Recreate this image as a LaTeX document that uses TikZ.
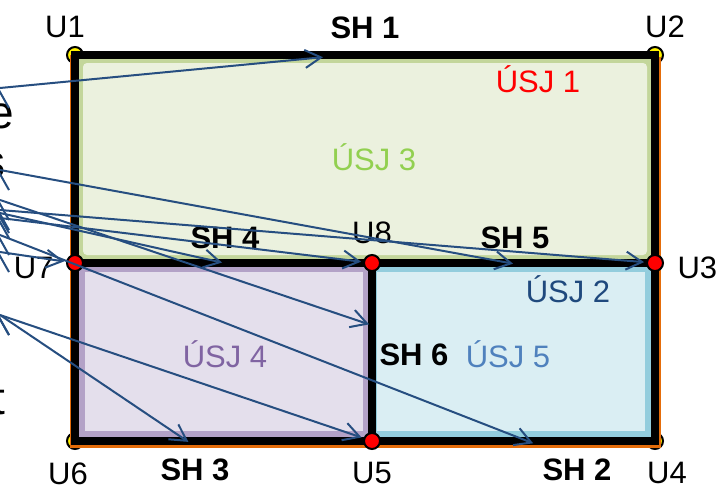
\documentclass[tikz,border=0pt]{standalone}
\usepackage{fontspec}
\setmainfont{Liberation Sans}
\usetikzlibrary{arrows.meta,positioning,backgrounds}

\definecolor{arrowblue}{RGB}{38,78,128}
\definecolor{areagreen}{RGB}{235,241,222}
\definecolor{bordergreen}{RGB}{195,214,155}
\definecolor{areapurple}{RGB}{228,223,236}
\definecolor{borderpurple}{RGB}{179,162,199}
\definecolor{areablue}{RGB}{218,238,243}
\definecolor{borderblue}{RGB}{147,205,221}
\definecolor{orangeline}{RGB}{228,108,10}
\definecolor{usjgreen}{RGB}{146,208,80}
\definecolor{usjnavy}{RGB}{31,73,125}
\definecolor{usjpurple}{RGB}{128,100,162}
\definecolor{usjblue}{RGB}{79,129,189}

\begin{document}
\begin{tikzpicture}[
    x = 0.5pt, y = -0.5pt, % pixel grid, y downwards
    > = {Straight Barb[length=8pt,width=9pt]}, % arrow head style
    shorten > = 1pt, % don't touch arrow head to node
    font = \fontsize{15.5}{18}\selectfont,
    semithick % line style
    ]

    \tikzset{
    corner/.style = {circle, draw = black, line width = 1pt, fill = yellow, inner sep = 0pt, minimum size = 8pt},
    hub/.style = {corner, fill = red, minimum size = 8pt},
    tag/.style = {inner sep = 0pt},
    side/.style = {tag, font = \fontsize{15.5}{18}\selectfont\bfseries},
    big/.style = {tag, font = \fontsize{23}{28}\selectfont},
    wall/.style = {line width = 4pt, line cap = round},
    pointer/.style = {->, draw = arrowblue, line width = 1pt}
    }

    \useasboundingbox (0,0) rectangle (718,488);

    % junctions
    \node[hub] (u3) at (655,263) {};
    \node[hub] (u5) at (372,441) {};
    \node[hub] (u7) at (75,263) {};
    \node[hub] (u8) at (372,263) {};

    % areas, corners and walls
    \begin{scope}[on background layer]
    \fill[white] (0,0) rectangle (718,488);
    \node[corner] (u1) at (75,55) {};
    \node[corner] (u2) at (655,55) {};
    \node[corner] (u4) at (655,441) {};
    \node[corner] (u6) at (75,441) {};
    \fill[bordergreen] (u1.center) rectangle (u3.center);
    \fill[areagreen, rounded corners=2pt] (83,63) rectangle (647,255);
    \fill[borderpurple] (u7.center) rectangle (u5.center);
    \fill[areapurple] (85,272) rectangle (363,431);
    \fill[borderblue] (u8.center) rectangle (u4.center);
    \fill[areablue] (377,272) rectangle (645,431);
    \draw[orangeline, line width = 1.5pt] (71,55) -- (71,446) -- (659,446) -- (659,55);
    \draw[wall] (u1.center) -- (u2.center) -- (u4.center) -- (u6.center) -- cycle;
    \draw[wall] (u7.center) -- (u3.center);
    \draw[wall] (u8.center) -- (u5.center);
    \end{scope}

    \node[tag] (n1) [above=4pt of u1, xshift=-5pt] {U1};
    \node[tag] (n2) [above=4pt of u2, xshift=5pt] {U2};
    \node[tag] (n3) [right=6.5pt of u3, yshift=-2.5pt] {U3};
    \node[tag] (n4) [below=6pt of u4, xshift=6pt] {U4};
    \node[tag] (n5) [below=6pt of u5] {U5};
    \node[tag] (n6) [below=6pt of u6, xshift=-3.5pt] {U6};
    \node[tag] (n7) [left=6pt of u7, yshift=-2.5pt] {U7};
    \node[tag] (n8) [above=5pt of u8] {U8};

    % sides
    \node[side] (sh1) at (365,28) {SH 1};
    \node[side] (sh4) at (225,238) {SH 4};
    \node[side] (sh5) at (515,238) {SH 5};
    \node[side] (sh6) at (414,355) {SH 6};
    \node[side] (sh3) at (195,470) {SH 3};
    \node[side] (sh2) at (577,470) {SH 2};

    \node[tag, anchor=base, red] (usj1) at (538,92) {ÚSJ 1};
    \node[tag, anchor=base, usjnavy] (usj2) at (568,302) {ÚSJ 2};
    \node[tag, anchor=base, usjgreen] (usj3) at (374,170) {ÚSJ 3};
    \node[tag, anchor=base, usjpurple] (usj4) at (225,367) {ÚSJ 4};
    \node[tag, anchor=base, usjblue] (usj5) at (508,367) {ÚSJ 5};

    % cut text on the left
    \node[big, anchor=base east] (w1) at (15,128) {e};
    \node[big, anchor=base east] (w2) at (6,177) {s};
    \node[big, anchor=base east] (w3) at (6,414) {t};

    % pointers
    \coordinate (o1) at (0,88);
    \coordinate (o2) at (0,170);
    \coordinate (o3) at (0,210);
    \coordinate (o4) at (0,218);
    \coordinate (o5) at (0,213);
    \coordinate (o6) at (0,200);
    \coordinate (o7) at (0,235);
    \coordinate (o8) at (0,252);
    \coordinate (o9) at (0,315);
    \coordinate (t1) at (325,57);
    \coordinate (t2) at (515,264);
    \coordinate (t5) at (224,263);
    \coordinate (t6) at (371,325);
    \coordinate (t7) at (535,444);
    \coordinate (t9) at (190,443);

    \path[pointer] (o1) edge (t1);
    \path[pointer] (o2) edge (t2);
    \path[pointer] (o3) edge (u3);
    \path[pointer] (o4) edge (u8);
    \path[pointer] (o5) edge (t5);
    \path[pointer] (o6) edge (t6);
    \path[pointer] (o7) edge (t7);
    \path[pointer] (o8) edge (u7);
    \path[pointer] (o9) edge (u5);
    \path[pointer] (o9) edge (t9);
\end{tikzpicture}
\end{document}
